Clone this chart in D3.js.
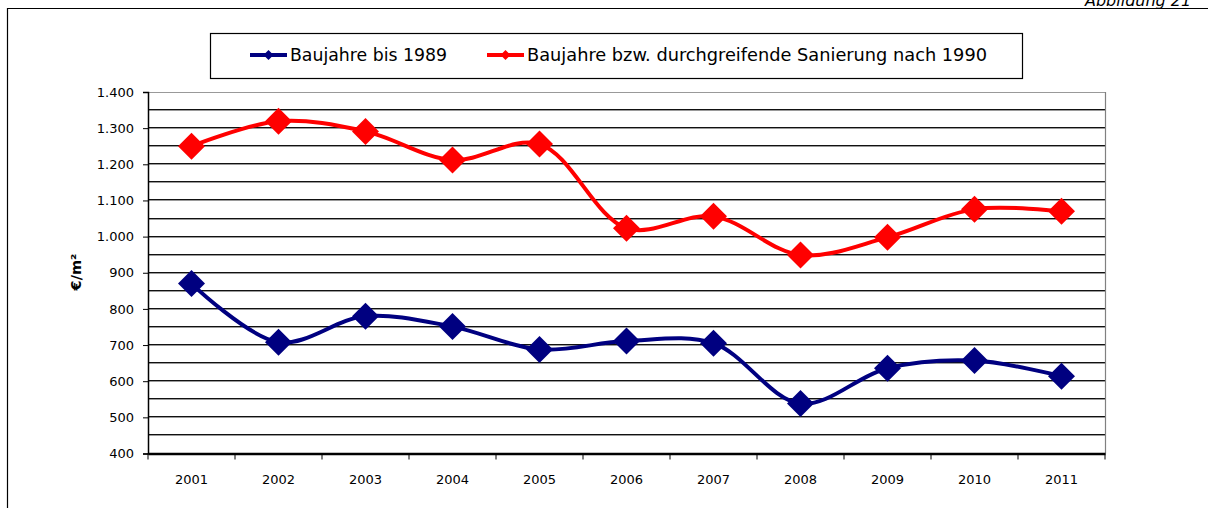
<!DOCTYPE html>
<html><head><meta charset="utf-8">
<script src="https://cdn.jsdelivr.net/npm/d3@7"></script>
<style>body{margin:0;background:#fff}svg{display:block}</style>
</head><body>
<svg id="c" width="1208" height="508"></svg>
<script>
const years = ["2001","2002","2003","2004","2005","2006","2007","2008","2009","2010","2011"];
const seriesNames = ["Baujahre bis 1989","Baujahre bzw. durchgreifende Sanierung nach 1990"];
const valuesOld = [870,708,780,751,688,711,705,538,636,657,614];
const valuesNew = [1250,1319,1291,1212,1256,1023,1056,949,998,1076,1070];
const yTicks = [400,500,600,700,800,900,1000,1100,1200,1300,1400];
const gridValues = [450,500,550,600,650,700,750,800,850,900,950,1000,1050,1100,1150,1200,1250,1300,1350,1400];
const colors = ["#000080","#ff0000"];

const svg = d3.select("#c");
const L=148,R=1105,T=92,B=453.5;
const x = d3.scaleBand().domain(years).range([L,R]);
const y = d3.scaleLinear().domain([400,1400]).range([B,T]);
const fmt = v => d3.format(",")(v).replace(/,/g,".");

// outer frame
svg.append("path").attr("d","M7.5,508 L7.5,8.5 L1208,8.5").attr("fill","none").attr("stroke","#000").attr("stroke-width",1.2);
svg.append("text").attr("x",1085).attr("y",6)
  .attr("font-family","DejaVu Sans, sans-serif").attr("font-size",16).attr("font-style","italic").text("Abbildung 21");

// gridlines
const g = svg.append("g");
gridValues.forEach(v=>{
  const yy = Math.round(y(v));
  if(v===1400){
    g.append("line").attr("x1",L).attr("x2",R).attr("y1",yy+0.5).attr("y2",yy+0.5).attr("stroke","#999").attr("stroke-width",1);
  } else {
    g.append("line").attr("x1",L).attr("x2",R).attr("y1",yy-0.5).attr("y2",yy-0.5).attr("stroke","#111").attr("stroke-width",1);
    g.append("line").attr("x1",L).attr("x2",R).attr("y1",yy+0.5).attr("y2",yy+0.5).attr("stroke","#9a9a9a").attr("stroke-width",1);
  }
});
// right border
svg.append("line").attr("x1",R+0.5).attr("x2",R+0.5).attr("y1",T).attr("y2",B).attr("stroke","#808080").attr("stroke-width",1.2);

// y axis
const yAxis = d3.axisLeft(y).tickValues(yTicks).tickFormat(fmt).tickSize(5).tickPadding(9);
const ya = svg.append("g").attr("transform",`translate(${L},0)`).call(yAxis);
ya.select(".domain").attr("stroke","#000").attr("stroke-width",1.5);
ya.selectAll(".tick line").attr("stroke","#000");
ya.selectAll("text").attr("font-family","DejaVu Sans, Verdana, sans-serif").attr("font-size",13).attr("fill","#000");

// x axis
const xAxis = d3.axisBottom(x).tickSize(0).tickPadding(21);
const xa = svg.append("g").attr("transform",`translate(0,${B})`).call(xAxis);
xa.select(".domain").attr("stroke","#000").attr("stroke-width",2.5);
xa.selectAll("text").attr("font-family","DejaVu Sans, Verdana, sans-serif").attr("font-size",13).attr("fill","#000");
// boundary ticks
const bounds = years.map(d=>x(d)).concat([R]);
xa.selectAll(".btick").data(bounds).enter().append("line")
  .attr("x1",d=>d).attr("x2",d=>d).attr("y1",0).attr("y2",6).attr("stroke","#000").attr("stroke-width",1);

// y title
svg.append("text").attr("transform","translate(81,272) rotate(-90)").attr("text-anchor","middle")
  .attr("font-family","DejaVu Sans, Verdana, sans-serif").attr("font-size",14.5).attr("font-weight","bold").text("€/m²");

// lines
const line = d3.line().x((d,i)=>x(years[i])+x.bandwidth()/2).y(d=>y(d)).curve(d3.curveCatmullRom.alpha(0.5));
const diamond = (cx,cy,r)=>`M${cx},${cy-r} L${cx+r},${cy} L${cx},${cy+r} L${cx-r},${cy} Z`;
[valuesOld,valuesNew].forEach((vals,si)=>{
  svg.append("path").attr("d",line(vals)).attr("fill","none").attr("stroke",colors[si]).attr("stroke-width",4);
  svg.selectAll(".m"+si).data(vals).enter().append("path")
    .attr("d",(d,i)=>diamond(x(years[i])+x.bandwidth()/2,y(d),13.5)).attr("fill",colors[si]);
});

// legend
svg.append("rect").attr("x",210.5).attr("y",33.5).attr("width",812).attr("height",45).attr("fill","#fff").attr("stroke","#000").attr("stroke-width",1.2);
const leg = [{x1:250,x2:287,tx:290},{x1:487,x2:524,tx:527}];
const legW = [157,460];
leg.forEach((l,i)=>{
  svg.append("line").attr("x1",l.x1).attr("x2",l.x2).attr("y1",55).attr("y2",55).attr("stroke",colors[i]).attr("stroke-width",4);
  svg.append("path").attr("d",diamond((l.x1+l.x2)/2,55,5)).attr("fill",colors[i]);
  svg.append("text").attr("x",l.tx).attr("y",61).attr("font-family","DejaVu Sans Condensed, Liberation Sans Narrow, sans-serif")
    .attr("font-size",18).attr("textLength",legW[i]).attr("lengthAdjust","spacingAndGlyphs").attr("fill","#000").text(seriesNames[i]);
});
</script>
</body></html>
